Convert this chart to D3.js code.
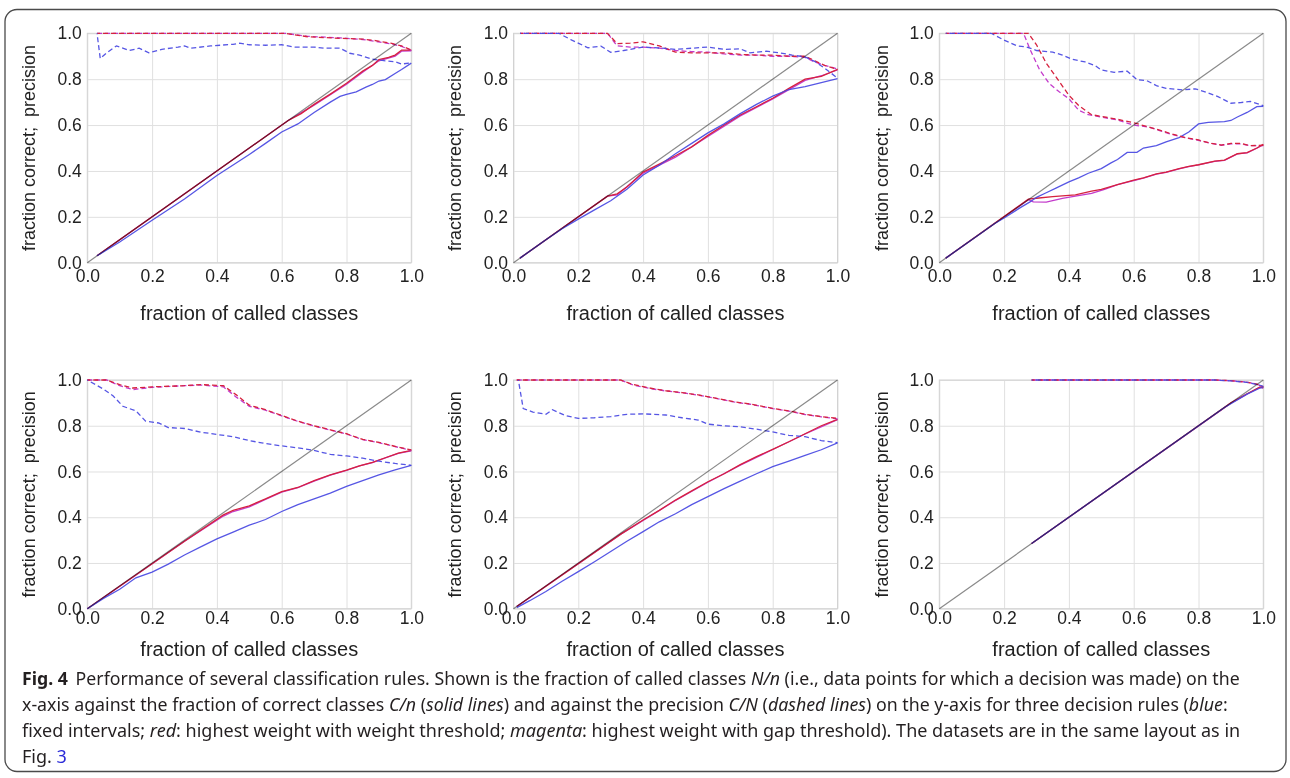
<!DOCTYPE html>
<html lang="en">
<head>
<meta charset="UTF-8">
<title>Fig. 4 - classification rules</title>
<style>
  body { margin: 0; background: #fff; }
  #chart text { font-family: "Liberation Sans", Arial, sans-serif; fill: #222; }
  #chart .caption text { font-family: "Noto Sans", sans-serif; fill: #231f20; }
</style>
</head>
<body>
<svg id="chart" width="1290" height="778"></svg>
<script src="https://d3js.org/d3.v7.min.js"></script>
<script>
// ---- data: [fraction of called classes, value] ----
const tickValues = [0, 0.2, 0.4, 0.6, 0.8, 1.0];
const tickLabels = ["0.0", "0.2", "0.4", "0.6", "0.8", "1.0"];
const xTitle = "fraction of called classes";
const yTitle = "fraction correct;\u00a0 precision";

// panel 1 (top left)
const p1BlueSolid = [[0.03,0.03],[0.1,0.09],[0.2,0.185],[0.3,0.278],[0.4,0.38],[0.5,0.472],[0.55,0.52],[0.6,0.57],[0.65,0.605],[0.7,0.655],[0.75,0.7],[0.78,0.725],[0.8,0.734],[0.83,0.745],[0.86,0.765],[0.88,0.777],[0.9,0.792],[0.92,0.798],[0.95,0.825],[0.97,0.842],[1.0,0.87]];
const p1RedSolid = [[0.03,0.03],[0.62,0.62],[0.66,0.65],[0.7,0.69],[0.75,0.735],[0.8,0.782],[0.85,0.835],[0.88,0.86],[0.9,0.885],[0.93,0.895],[0.95,0.905],[0.97,0.927],[1.0,0.927]];
const p1MagSolid = [[0.03,0.03],[0.62,0.62],[0.7,0.687],[0.8,0.778],[0.85,0.83],[0.9,0.88],[0.95,0.9],[0.97,0.922],[1.0,0.924]];
const p1BlueDash = [[0.03,1.0],[0.04,0.89],[0.06,0.915],[0.09,0.945],[0.13,0.925],[0.16,0.935],[0.19,0.915],[0.23,0.93],[0.28,0.94],[0.3,0.945],[0.32,0.935],[0.38,0.945],[0.45,0.952],[0.47,0.957],[0.5,0.95],[0.55,0.948],[0.6,0.95],[0.64,0.94],[0.7,0.94],[0.73,0.935],[0.78,0.935],[0.81,0.913],[0.84,0.905],[0.88,0.887],[0.92,0.88],[0.95,0.876],[0.97,0.866],[1.0,0.871]];
const p1RedDash = [[0.03,1.0],[0.61,1.0],[0.68,0.985],[0.78,0.978],[0.85,0.975],[0.89,0.968],[0.94,0.956],[0.97,0.945],[1.0,0.927]];
const p1MagDash = [[0.03,1.0],[0.61,1.0],[0.68,0.987],[0.78,0.98],[0.85,0.973],[0.89,0.965],[0.94,0.953],[0.97,0.943],[1.0,0.925]];

// panel 2 (top middle)
const p2BlueSolid = [[0.02,0.02],[0.1,0.1],[0.15,0.148],[0.2,0.19],[0.25,0.23],[0.3,0.27],[0.35,0.32],[0.4,0.382],[0.45,0.425],[0.5,0.475],[0.55,0.52],[0.6,0.566],[0.65,0.605],[0.7,0.65],[0.75,0.69],[0.8,0.726],[0.85,0.755],[0.9,0.768],[0.95,0.785],[1.0,0.802]];
const p2RedSolid = [[0.02,0.02],[0.29,0.29],[0.32,0.3],[0.35,0.33],[0.4,0.395],[0.45,0.43],[0.5,0.466],[0.55,0.505],[0.6,0.555],[0.65,0.6],[0.7,0.644],[0.75,0.68],[0.8,0.717],[0.85,0.76],[0.9,0.8],[0.95,0.812],[1.0,0.843]];
const p2MagSolid = [[0.02,0.02],[0.29,0.29],[0.32,0.296],[0.4,0.39],[0.5,0.46],[0.6,0.55],[0.7,0.64],[0.8,0.714],[0.9,0.795],[0.95,0.815],[1.0,0.84]];
const p2BlueDash = [[0.02,1.0],[0.14,1.0],[0.18,0.97],[0.23,0.937],[0.27,0.944],[0.3,0.917],[0.34,0.925],[0.4,0.94],[0.46,0.935],[0.5,0.93],[0.55,0.935],[0.6,0.94],[0.65,0.93],[0.7,0.932],[0.73,0.915],[0.78,0.922],[0.82,0.915],[0.86,0.905],[0.9,0.897],[0.93,0.877],[0.96,0.848],[1.0,0.805]];
const p2RedDash = [[0.02,1.0],[0.29,1.0],[0.32,0.955],[0.36,0.957],[0.4,0.963],[0.45,0.945],[0.5,0.918],[0.55,0.915],[0.6,0.915],[0.65,0.915],[0.7,0.908],[0.75,0.905],[0.8,0.905],[0.85,0.9],[0.9,0.9],[0.93,0.88],[0.96,0.86],[1.0,0.843]];
const p2MagDash = [[0.02,1.0],[0.29,1.0],[0.32,0.945],[0.36,0.94],[0.4,0.94],[0.45,0.935],[0.5,0.925],[0.55,0.92],[0.6,0.918],[0.65,0.91],[0.7,0.905],[0.75,0.905],[0.8,0.9],[0.85,0.9],[0.9,0.895],[0.93,0.875],[0.96,0.86],[1.0,0.845]];

// panel 3 (top right)
const p3BlueSolid = [[0.02,0.02],[0.17,0.17],[0.2,0.195],[0.25,0.24],[0.28,0.265],[0.3,0.285],[0.33,0.305],[0.36,0.325],[0.4,0.352],[0.43,0.37],[0.46,0.39],[0.5,0.41],[0.53,0.435],[0.55,0.45],[0.58,0.481],[0.61,0.481],[0.63,0.5],[0.67,0.51],[0.7,0.527],[0.74,0.545],[0.77,0.57],[0.8,0.605],[0.83,0.612],[0.88,0.615],[0.9,0.62],[0.92,0.635],[0.95,0.655],[0.98,0.68],[1.0,0.682]];
const p3RedSolid = [[0.02,0.02],[0.275,0.277],[0.3,0.281],[0.35,0.288],[0.42,0.296],[0.47,0.312],[0.5,0.32],[0.55,0.34],[0.6,0.36],[0.63,0.37],[0.67,0.387],[0.7,0.395],[0.74,0.41],[0.77,0.42],[0.8,0.427],[0.85,0.443],[0.88,0.447],[0.92,0.475],[0.95,0.48],[0.98,0.5],[1.0,0.516]];
const p3MagSolid = [[0.02,0.02],[0.275,0.275],[0.29,0.265],[0.33,0.264],[0.38,0.28],[0.42,0.29],[0.47,0.302],[0.51,0.32],[0.55,0.34],[0.6,0.358],[0.63,0.369],[0.67,0.386],[0.7,0.394],[0.74,0.409],[0.77,0.419],[0.8,0.426],[0.85,0.442],[0.88,0.446],[0.92,0.474],[0.95,0.479],[0.98,0.499],[1.0,0.514]];
const p3BlueDash = [[0.02,1.0],[0.16,1.0],[0.2,0.97],[0.24,0.945],[0.27,0.94],[0.3,0.925],[0.35,0.918],[0.38,0.905],[0.41,0.887],[0.45,0.875],[0.48,0.86],[0.5,0.84],[0.54,0.83],[0.58,0.835],[0.61,0.798],[0.64,0.794],[0.67,0.772],[0.7,0.76],[0.75,0.753],[0.79,0.758],[0.82,0.745],[0.86,0.724],[0.9,0.695],[0.93,0.698],[0.96,0.703],[1.0,0.685]];
const p3RedDash = [[0.02,1.0],[0.275,1.0],[0.3,0.95],[0.33,0.87],[0.37,0.79],[0.4,0.73],[0.43,0.685],[0.47,0.645],[0.5,0.638],[0.55,0.625],[0.6,0.61],[0.65,0.59],[0.68,0.578],[0.72,0.56],[0.76,0.545],[0.8,0.535],[0.84,0.52],[0.87,0.513],[0.9,0.52],[0.93,0.52],[0.96,0.51],[1.0,0.512]];
const p3MagDash = [[0.02,1.0],[0.26,1.0],[0.28,0.93],[0.31,0.84],[0.34,0.78],[0.37,0.745],[0.4,0.715],[0.43,0.665],[0.46,0.645],[0.5,0.635],[0.55,0.622],[0.6,0.6],[0.65,0.59],[0.68,0.576],[0.72,0.558],[0.76,0.545],[0.8,0.533],[0.84,0.52],[0.87,0.512],[0.9,0.518],[0.93,0.518],[0.96,0.51],[1.0,0.51]];

// panel 4 (bottom left)
const p4BlueSolid = [[0,0],[0.05,0.045],[0.1,0.085],[0.15,0.135],[0.2,0.16],[0.25,0.195],[0.3,0.235],[0.35,0.27],[0.4,0.305],[0.45,0.335],[0.5,0.365],[0.55,0.39],[0.6,0.425],[0.65,0.455],[0.7,0.48],[0.75,0.505],[0.8,0.535],[0.85,0.56],[0.9,0.585],[0.95,0.607],[1.0,0.627]];
const p4RedSolid = [[0,0],[0.3,0.295],[0.42,0.41],[0.45,0.43],[0.5,0.45],[0.55,0.48],[0.6,0.512],[0.65,0.53],[0.7,0.56],[0.75,0.585],[0.8,0.606],[0.84,0.625],[0.88,0.64],[0.92,0.66],[0.96,0.68],[1.0,0.692]];
const p4MagSolid = [[0,0],[0.3,0.295],[0.42,0.405],[0.45,0.425],[0.5,0.445],[0.55,0.478],[0.6,0.51],[0.65,0.529],[0.7,0.558],[0.75,0.584],[0.8,0.605],[0.84,0.624],[0.88,0.639],[0.92,0.659],[0.96,0.679],[1.0,0.69]];
const p4BlueDash = [[0,1.0],[0.05,0.96],[0.08,0.93],[0.11,0.885],[0.15,0.865],[0.18,0.82],[0.22,0.812],[0.25,0.792],[0.3,0.788],[0.35,0.772],[0.4,0.762],[0.45,0.752],[0.5,0.735],[0.55,0.722],[0.6,0.712],[0.65,0.703],[0.7,0.692],[0.75,0.675],[0.8,0.668],[0.85,0.658],[0.9,0.645],[0.95,0.635],[1.0,0.627]];
const p4RedDash = [[0,1.0],[0.06,1.0],[0.1,0.98],[0.14,0.965],[0.2,0.97],[0.3,0.975],[0.35,0.98],[0.42,0.975],[0.46,0.935],[0.5,0.89],[0.55,0.87],[0.6,0.845],[0.65,0.82],[0.7,0.8],[0.75,0.782],[0.8,0.765],[0.85,0.74],[0.9,0.727],[0.95,0.71],[1.0,0.694]];
const p4MagDash = [[0,1.0],[0.06,1.0],[0.1,0.975],[0.14,0.958],[0.2,0.968],[0.3,0.975],[0.35,0.978],[0.42,0.97],[0.46,0.925],[0.5,0.885],[0.55,0.868],[0.6,0.843],[0.65,0.819],[0.7,0.799],[0.75,0.781],[0.8,0.764],[0.85,0.739],[0.9,0.726],[0.95,0.709],[1.0,0.692]];

// panel 5 (bottom middle)
const p5BlueSolid = [[0.01,0.005],[0.05,0.035],[0.1,0.075],[0.15,0.12],[0.2,0.162],[0.25,0.205],[0.3,0.25],[0.35,0.295],[0.4,0.337],[0.45,0.38],[0.5,0.415],[0.55,0.455],[0.6,0.49],[0.65,0.525],[0.7,0.558],[0.75,0.59],[0.8,0.621],[0.85,0.645],[0.9,0.67],[0.95,0.695],[1.0,0.725]];
const p5RedSolid = [[0.01,0.01],[0.33,0.325],[0.4,0.388],[0.45,0.43],[0.5,0.475],[0.55,0.515],[0.6,0.555],[0.65,0.59],[0.7,0.63],[0.75,0.665],[0.8,0.697],[0.85,0.73],[0.9,0.765],[0.95,0.8],[1.0,0.828]];
const p5MagSolid = [[0.01,0.01],[0.33,0.325],[0.4,0.386],[0.5,0.473],[0.6,0.553],[0.7,0.628],[0.8,0.696],[0.9,0.764],[1.0,0.827]];
const p5BlueDash = [[0.015,1.0],[0.03,0.875],[0.06,0.86],[0.1,0.85],[0.12,0.87],[0.16,0.845],[0.2,0.832],[0.25,0.835],[0.3,0.84],[0.35,0.85],[0.4,0.852],[0.47,0.847],[0.52,0.835],[0.57,0.825],[0.6,0.807],[0.65,0.8],[0.7,0.795],[0.75,0.785],[0.8,0.773],[0.85,0.758],[0.9,0.752],[0.95,0.735],[1.0,0.726]];
const p5RedDash = [[0.01,1.0],[0.33,1.0],[0.37,0.98],[0.42,0.965],[0.47,0.953],[0.52,0.945],[0.57,0.935],[0.62,0.922],[0.68,0.905],[0.73,0.895],[0.8,0.876],[0.85,0.865],[0.9,0.85],[0.95,0.84],[1.0,0.832]];
const p5MagDash = [[0.01,1.0],[0.33,1.0],[0.37,0.978],[0.42,0.963],[0.47,0.952],[0.52,0.944],[0.57,0.934],[0.62,0.921],[0.68,0.904],[0.73,0.894],[0.8,0.875],[0.85,0.864],[0.9,0.849],[0.95,0.839],[1.0,0.83]];

// panel 6 (bottom right)
const p6BlueSolid = [[0.285,0.285],[0.88,0.88],[0.95,0.938],[0.99,0.965],[1.0,0.968]];
const p6RedSolid = [[0.285,0.285],[0.9,0.9],[0.95,0.94],[0.99,0.97],[1.0,0.965]];
const p6MagSolid = [[0.285,0.285],[0.9,0.899],[0.95,0.939],[0.99,0.969],[1.0,0.966]];
const p6BlueDash = [[0.285,1.0],[0.85,1.0],[0.9,0.996],[0.95,0.99],[0.98,0.98],[1.0,0.972]];
const p6RedDash = [[0.285,1.0],[0.85,1.0],[0.9,0.997],[0.95,0.99],[0.98,0.982],[1.0,0.97]];
const p6MagDash = [[0.285,1.0],[0.85,1.0],[0.9,0.997],[0.95,0.991],[0.98,0.981],[1.0,0.971]];

// drawing order per panel: magenta, red, blue (blue ends up on top)
const panelSeries = [
    [p1MagSolid, p1RedSolid, p1BlueSolid, p1MagDash, p1RedDash, p1BlueDash],
    [p2MagSolid, p2RedSolid, p2BlueSolid, p2MagDash, p2RedDash, p2BlueDash],
    [p3MagSolid, p3RedSolid, p3BlueSolid, p3MagDash, p3RedDash, p3BlueDash],
    [p4MagSolid, p4RedSolid, p4BlueSolid, p4MagDash, p4RedDash, p4BlueDash],
    [p5MagSolid, p5RedSolid, p5BlueSolid, p5MagDash, p5RedDash, p5BlueDash],
    [p6MagSolid, p6RedSolid, p6BlueSolid, p6MagDash, p6RedDash, p6BlueDash]
];
const seriesColors = ["#c030c8", "#d6223e", "#4848e2", "#c030c8", "#d6223e", "#4848e2"];
const seriesOpacity = [0.95, 1, 0.92, 0.95, 1, 0.92];
const seriesDashed = [false, false, false, true, true, true];
const dashOffset = [0, 2, 4, 0, 2, 4];

// caption, one array per printed line: [text, style, dx]
const captionLines = [
    [["Fig. 4", "b"], ["Performance of several classification rules. Shown is the fraction of called classes ", "", 8], ["N/n", "i"], [" (i.e., data points for which a decision was made) on the", ""]],
    [["x-axis against the fraction of correct classes ", ""], ["C/n", "i"], [" (", ""], ["solid lines", "i"], [") and against the precision ", ""], ["C/N", "i"], [" (", ""], ["dashed lines", "i"], [") on the y-axis for three decision rules (", ""], ["blue", "i"], [":", ""]],
    [["fixed intervals; ", ""], ["red", "i"], [": highest weight with weight threshold; ", ""], ["magenta", "i"], [": highest weight with gap threshold). The datasets are in the same layout as in", ""]],
    [["Fig. ", ""], ["3", "link"]]
];

// ---- layout ----
const svg = d3.select("#chart");
const colLeft = [87.3, 513.5, 939.3];
const plotW = 324;
const rowTop = [33.3, 380];
const plotH = [229.4, 228.7];
const xTickPad = [7, 2.8];
const xTitleBase = [320, 656];

svg.append("rect")
    .attr("x", 5).attr("y", 9.5)
    .attr("width", 1281).attr("height", 762)
    .attr("rx", 12)
    .attr("fill", "none")
    .attr("stroke", "#4a4a4a")
    .attr("stroke-width", 1.3);

panelSeries.forEach((series, i) => {
    const row = Math.floor(i / 3), col = i % 3;
    const left = colLeft[col], top = rowTop[row], h = plotH[row];
    const g = svg.append("g").attr("transform", "translate(" + left + "," + top + ")");

    const x = d3.scaleLinear().domain([0, 1]).range([0, plotW]);
    const y = d3.scaleLinear().domain([0, 1]).range([h, 0]);

    const yAxis = g.append("g")
        .call(d3.axisLeft(y).tickValues(tickValues).tickFormat((d, k) => tickLabels[k])
            .tickSize(-plotW).tickPadding(5.5));
    const xAxis = g.append("g")
        .attr("transform", "translate(0," + h + ")")
        .call(d3.axisBottom(x).tickValues(tickValues).tickFormat((d, k) => tickLabels[k])
            .tickSize(-h).tickPadding(xTickPad[row]));
    [xAxis, yAxis].forEach(a => {
        a.select(".domain").remove();
        a.selectAll(".tick line").attr("stroke", "#e0e0e0").attr("stroke-width", 1);
        a.selectAll(".tick text").attr("font-size", 17.5).attr("fill", "#222");
        a.attr("font-family", null);
    });

    g.append("rect")
        .attr("width", plotW).attr("height", h)
        .attr("fill", "none").attr("stroke", "#d2d2d2").attr("stroke-width", 1);

    const lineGen = d3.line().x(d => x(d[0])).y(d => y(d[1]));

    series.forEach((pts, s) => {
        g.append("path")
            .attr("d", lineGen(pts))
            .attr("fill", "none")
            .attr("stroke", seriesColors[s])
            .attr("stroke-width", 1.3)
            .attr("stroke-opacity", seriesOpacity[s])
            .attr("stroke-dasharray", seriesDashed[s] ? "5,3" : null)
            .attr("stroke-dashoffset", seriesDashed[s] ? dashOffset[s] : null);
    });

    // identity diagonal, multiplied over the curves so shared segments darken
    g.append("path")
        .attr("d", lineGen([[0, 0], [1, 1]]))
        .attr("fill", "none").attr("stroke", "#8a8a8a").attr("stroke-width", 1.2)
        .style("mix-blend-mode", "multiply");

    g.append("text")
        .attr("x", plotW / 2).attr("y", xTitleBase[row] - top)
        .attr("text-anchor", "middle")
        .attr("font-size", 20)
        .text(xTitle);

    g.append("text")
        .attr("transform", "translate(" + (-left + [34.5, 461, 888][col]) + "," + (h / 2) + ") rotate(-90)")
        .attr("text-anchor", "middle")
        .attr("font-size", 18)
        .text(yTitle);
});

// caption, each line squeezed to the printed width
const cap = svg.append("g").attr("class", "caption");
const capBase = [684.5, 710.5, 737, 763];
const capRight = [1240, 1229, 1241, null];
let lastScale = 1;
captionLines.forEach((parts, li) => {
    const t = cap.append("text").attr("font-size", 18.5);
    parts.forEach(p => {
        const ts = t.append("tspan").text(p[0]);
        if (p[1] === "b") ts.attr("font-weight", "bold");
        if (p[1] === "i") ts.attr("font-style", "italic");
        if (p[1] === "link") ts.style("fill", "#2a2ad8");
        if (p[2]) ts.attr("dx", p[2]);
    });
    const len = t.node().getComputedTextLength() + (li === 0 ? 8 : 0);
    const sc = capRight[li] ? (capRight[li] - 22) / len : lastScale;
    lastScale = sc;
    t.attr("transform", "translate(22," + capBase[li] + ") scale(" + sc + ",1)");
});
</script>
</body>
</html>
